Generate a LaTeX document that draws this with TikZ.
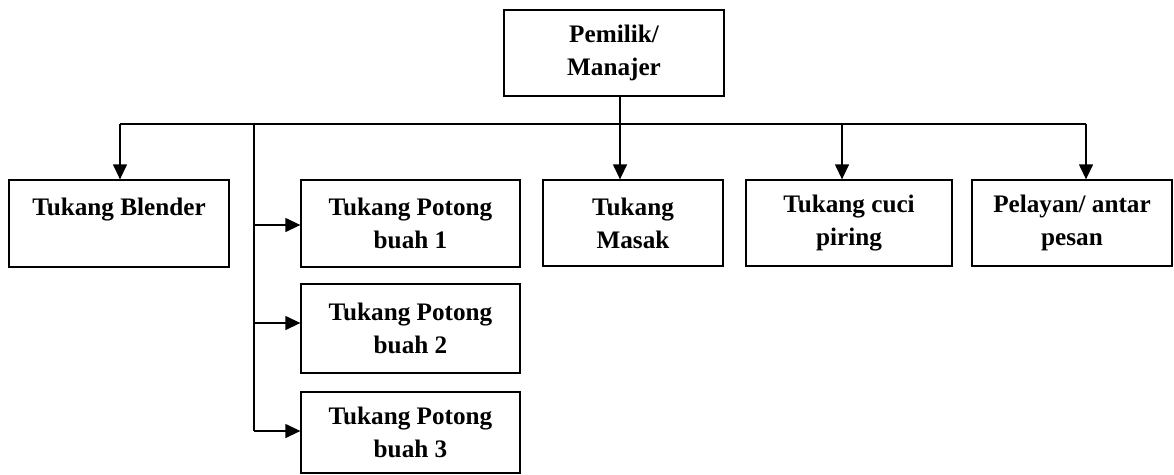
\documentclass[tikz,border=0pt]{standalone}
\usepackage{fontspec}
\setmainfont{Liberation Serif}
\usetikzlibrary{arrows.meta}
\tikzset{
  box/.style={draw, line width=1.3pt, inner sep=0pt, align=center,
    font=\fontsize{25.2}{33}\selectfont\bfseries},
  conn/.style={line width=1.3pt},
  arr/.style={line width=1.3pt, -{Triangle[length=15pt,width=14pt]}}
}
\begin{document}
\begin{tikzpicture}[x=1pt,y=-1pt]
\useasboundingbox (0,0) rectangle (1174,474);
% boxes
\node[box, minimum width=220pt, minimum height=86pt] (top) at (614,53) {Pemilik/\\Manajer};
\node[box, minimum width=220pt, minimum height=87pt] (blender) at (119,223.5) {Tukang Blender\\~};
\node[box, minimum width=219pt, minimum height=87pt] (p1) at (410.5,223.5) {Tukang Potong\\buah 1};
\node[box, minimum width=219pt, minimum height=89pt] (p2) at (410.5,328.5) {Tukang Potong\\buah 2};
\node[box, minimum width=219pt, minimum height=81pt] (p3) at (410.5,432.5) {Tukang Potong\\buah 3};
\node[box, minimum width=180pt, minimum height=86pt] (masak) at (633,223) {Tukang\\Masak};
\node[box, minimum width=206pt, minimum height=86pt] (cuci) at (849,223) {Tukang cuci\\piring};
\node[box, minimum width=200pt, minimum height=86pt] (pel) at (1072,223) {Pelayan/ antar\\pesan};
% bus coordinates
\coordinate (bL) at (120,124);
\coordinate (bR) at (1086,124);
\coordinate (bT) at (254,124);
\coordinate (xm) at (620,0);
\coordinate (xc) at (842,0);
\coordinate (t1) at (254,225);
\coordinate (t2) at (254,323);
\coordinate (t3) at (254,431);
% connectors
\draw[conn] (bL) -- (bR);
\draw[arr] (top.south -| xm) -- (masak.north -| xm);
\draw[arr] (bL) -- (bL |- blender.north);
\draw[arr] (bL -| xc) -- (cuci.north -| xc);
\draw[arr] (bR) -- (bR |- pel.north);
\draw[conn] (bT) -- (t3);
\draw[arr] (t1) -- (t1 -| p1.west);
\draw[arr] (t2) -- (t2 -| p2.west);
\draw[arr] (t3) -- (t3 -| p3.west);
\end{tikzpicture}
\end{document}
